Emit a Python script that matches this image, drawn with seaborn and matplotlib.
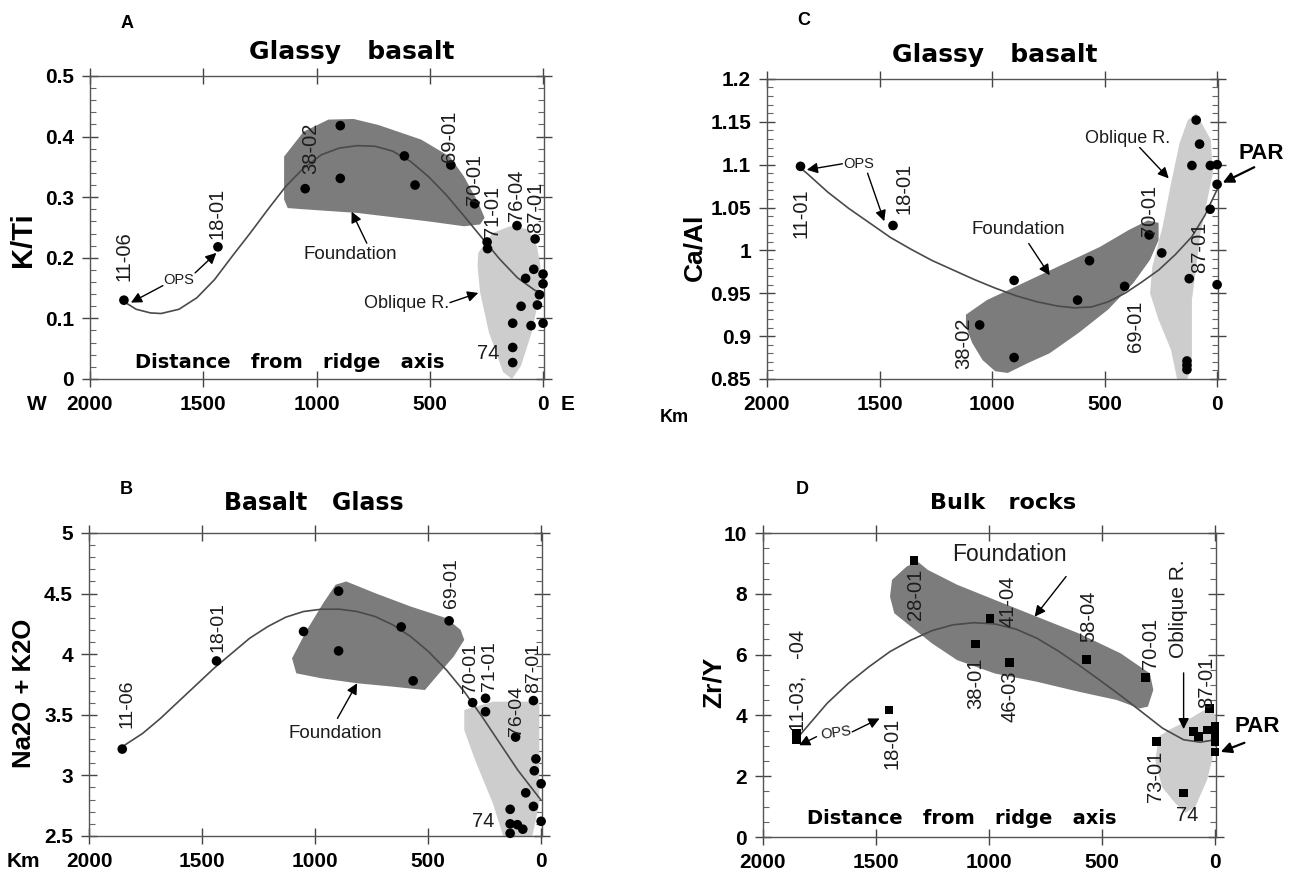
import numpy as np
import pandas as pd
import matplotlib
matplotlib.use("Agg")
import matplotlib.pyplot as plt
from matplotlib.ticker import MultipleLocator, FuncFormatter
import seaborn as sns

# ------------------------------------------------------------------ data
# Panel A : K/Ti, glassy basalt (distance from ridge axis, km)
a_dist = [1850, 1435, 1050, 895, 895, 612, 565, 407, 302, 247, 245, 115, 35,
          41, 77, 0, 0, 16, 25, 97, 53, 0, 134, 134, 134]
a_kti = [0.130, 0.218, 0.314, 0.418, 0.331, 0.368, 0.320, 0.353, 0.289, 0.226,
         0.215, 0.253, 0.231, 0.181, 0.166, 0.173, 0.157, 0.139, 0.122, 0.120,
         0.088, 0.092, 0.092, 0.052, 0.027]
a_fit_dist = [1843, 1796, 1733, 1686, 1607, 1528, 1450, 1371, 1292, 1214, 1135,
              1057, 978, 899, 821, 742, 664, 585, 506, 428, 349, 270, 192, 113, 35, 0]
a_fit_val = [0.126, 0.115, 0.109, 0.108, 0.115, 0.134, 0.164, 0.203, 0.241, 0.280,
             0.318, 0.348, 0.370, 0.381, 0.385, 0.384, 0.376, 0.359, 0.334, 0.304,
             0.269, 0.233, 0.198, 0.167, 0.146, 0.143]
a_found_dist = [1143, 1057, 947, 836, 726, 538, 412, 349, 286, 258, 278, 349, 506,
                821, 1057, 1127, 1143]
a_found_val = [0.367, 0.408, 0.428, 0.429, 0.419, 0.395, 0.367, 0.334, 0.291, 0.266,
               0.255, 0.252, 0.260, 0.274, 0.280, 0.282, 0.296]
a_obl_dist = [286, 223, 145, 66, 27, 11, 19, 50, 97, 137, 176, 239, 278, 289]
a_obl_val = [0.208, 0.241, 0.252, 0.247, 0.219, 0.186, 0.132, 0.077, 0.022, 0.0,
             0.011, 0.077, 0.143, 0.186]

# Panel B : Na2O + K2O, basalt glass
b_dist = [1853, 1436, 1051, 896, 896, 619, 566, 407, 303, 246, 246, 113, 34, 23,
          30, 0, 68, 34, 0, 137, 137, 105, 81, 137]
b_alk = [3.217, 3.944, 4.187, 4.52, 4.027, 4.225, 3.78, 4.275, 3.60, 3.636, 3.525,
         3.316, 3.617, 3.136, 3.038, 2.931, 2.856, 2.744, 2.621, 2.72, 2.60, 2.593,
         2.556, 2.522]
b_fit_dist = [1842, 1763, 1684, 1605, 1526, 1447, 1368, 1289, 1209, 1130, 1051, 972,
              893, 814, 735, 656, 577, 498, 419, 340, 261, 182, 103, 40, 0]
b_fit_val = [3.25, 3.346, 3.470, 3.608, 3.746, 3.884, 4.008, 4.132, 4.228, 4.305,
             4.352, 4.371, 4.371, 4.352, 4.311, 4.242, 4.145, 4.021, 3.870, 3.691,
             3.484, 3.263, 3.043, 2.891, 2.795]
b_found_dist = [1102, 1036, 964, 909, 862, 735, 577, 419, 356, 340, 387, 451, 514,
                656, 814, 972, 1083]
b_found_val = [3.966, 4.200, 4.421, 4.573, 4.600, 4.504, 4.393, 4.297, 4.200, 4.118,
               3.980, 3.842, 3.704, 3.732, 3.760, 3.801, 3.842]
b_obl_dist = [340, 213, 8, 8, 40, 166, 213, 292, 340]
b_obl_val = [3.539, 3.608, 3.608, 2.767, 2.49, 2.49, 2.767, 3.126, 3.374]

# Panel C : Ca/Al, glassy basalt
c_dist = [1851, 1440, 902, 1055, 902, 620, 567, 411, 302, 246, 93, 78, 112, 30, 0,
          0, 31, 124, 0, 134, 134, 134]
c_caal = [1.098, 1.029, 0.965, 0.913, 0.875, 0.942, 0.988, 0.958, 1.018, 0.997,
          1.152, 1.124, 1.099, 1.099, 1.100, 1.077, 1.048, 0.967, 0.960, 0.871,
          0.866, 0.861]
c_fit_dist = [1842, 1823, 1730, 1637, 1544, 1451, 1358, 1265, 1172, 1079, 986, 893,
              800, 707, 633, 558, 484, 409, 335, 260, 186, 112, 56, 0]
c_fit_val = [1.094, 1.090, 1.068, 1.049, 1.032, 1.015, 1.001, 0.988, 0.977, 0.966,
             0.956, 0.947, 0.940, 0.935, 0.933, 0.934, 0.940, 0.950, 0.963, 0.977,
             0.995, 1.016, 1.040, 1.071]
c_found_dist = [1116, 1023, 893, 707, 521, 391, 307, 260, 260, 298, 372, 484, 614,
                744, 837, 930, 986, 1042, 1088, 1116]
c_found_val = [0.925, 0.942, 0.958, 0.981, 1.004, 1.024, 1.035, 1.032, 1.012, 0.989,
               0.962, 0.931, 0.904, 0.880, 0.869, 0.857, 0.859, 0.872, 0.892, 0.911]
c_obl_dist = [93, 28, 19, 74, 112, 112, 140, 177, 205, 260, 298, 288, 242, 205, 167, 130]
c_obl_val = [1.160, 1.129, 1.090, 1.020, 0.942, 0.865, 0.845, 0.849, 0.884, 0.919,
             0.950, 0.981, 1.028, 1.078, 1.125, 1.152]

# Panel D : Zr/Y, bulk rocks
d_dist = [1852, 1852, 1442, 1332, 1058, 996, 909, 570, 306, 260, 139, 94, 72, 35,
          23, 0, 0, 0, 0]
d_zry = [3.40, 3.22, 4.18, 9.10, 6.35, 7.19, 5.74, 5.85, 5.25, 3.13, 1.45, 3.48,
         3.30, 3.52, 4.23, 3.63, 3.45, 3.13, 2.80]
d_fit_dist = [1837, 1716, 1623, 1531, 1438, 1345, 1252, 1160, 1067, 974, 881, 788,
              696, 603, 510, 417, 325, 232, 139, 65, 0]
d_fit_val = [3.35, 4.40, 5.05, 5.60, 6.10, 6.48, 6.79, 6.98, 7.05, 7.01, 6.84, 6.54,
             6.13, 5.66, 5.16, 4.65, 4.12, 3.58, 3.20, 3.12, 3.20]
d_found_dist = [1429, 1364, 1317, 1271, 1141, 974, 789, 603, 417, 288, 273, 297, 334,
                436, 603, 789, 974, 1141, 1252, 1345, 1419, 1438]
d_found_val = [8.46, 8.90, 9.07, 8.79, 8.30, 7.80, 7.25, 6.70, 6.04, 5.38, 4.84, 4.29,
               4.23, 4.51, 4.78, 5.11, 5.38, 5.82, 6.37, 6.92, 7.36, 7.91]
d_obl_dist = [21, 72, 146, 205, 249, 264, 235, 176, 131, 87, 35, 13, 0, -5]
d_obl_val = [4.29, 4.07, 3.74, 3.52, 3.30, 2.53, 1.65, 1.11, 0.80, 1.00, 1.88, 2.53,
             2.97, 3.96]

x_ticks = [2000, 1500, 1000, 500, 0]

# ------------------------------------------------------------------ style
sns.set_theme(style="ticks")
plt.rcParams["font.family"] = ["Liberation Sans", "DejaVu Sans"]
plt.rcParams["font.weight"] = "bold"
plt.rcParams["axes.labelweight"] = "bold"
plt.rcParams["text.color"] = "black"
plt.rcParams["axes.labelcolor"] = "black"

FOUND = "#7c7c7c"
OBL = "#cdcdcd"
CURVE = "#4a4a4a"
HEAVY = ["DejaVu Sans"]
ANN = dict(family=["Liberation Sans", "DejaVu Sans"], fontweight="normal", color="#1c1c1c")

fig = plt.figure(figsize=(12.96, 8.75), dpi=100)
axA = fig.add_axes([0.0694, 0.5669, 0.3505, 0.3463])
axC = fig.add_axes([0.5918, 0.5669, 0.3482, 0.3429])
axB = fig.add_axes([0.0687, 0.0446, 0.3497, 0.3463])
axD = fig.add_axes([0.5887, 0.0434, 0.3497, 0.3474])


def style(ax, ylim, ymaj, ymin):
    ax.set_xlim(2000, -5)
    ax.set_ylim(*ylim)
    ax.set_xticks(x_ticks)
    ax.xaxis.set_major_formatter(FuncFormatter(lambda v, p: f"{int(round(v))}"))
    ax.yaxis.set_major_locator(MultipleLocator(ymaj))
    ax.yaxis.set_minor_locator(MultipleLocator(ymin))
    ax.yaxis.set_major_formatter(FuncFormatter(lambda v, p: f"{v:g}"))
    ax.tick_params(which="major", direction="inout", length=11, width=1.0,
                   top=True, right=True, color="#444", labelsize=15, pad=6,
                   labelcolor="black")
    ax.tick_params(which="minor", direction="in", length=4.5, width=0.8,
                   left=True, right=True, top=False, bottom=False, color="#666")
    for s in ax.spines.values():
        s.set_color("#555")
        s.set_linewidth(1.0)
    ax.set_facecolor("white")


def draw(ax, xd, yd, fx, fy, pfx, pfy, ofx, ofy, marker="o", size=48):
    ax.fill(pfx, pfy, color=FOUND, lw=0, zorder=1)
    ax.fill(ofx, ofy, color=OBL, lw=0, zorder=1)
    sns.lineplot(x=fx, y=fy, ax=ax, sort=False, estimator=None, color=CURVE,
                 lw=1.2, zorder=2)
    sns.scatterplot(x=xd, y=yd, ax=ax, color="black", marker=marker, s=size,
                    edgecolor="none", zorder=4, legend=False, clip_on=False)


def lab(ax, x, y, s, size=14.5, rot=90):
    ax.text(x, y, s, rotation=rot, ha="center", va="center", fontsize=size,
            zorder=5, clip_on=False, **ANN)


def txt(ax, x, y, s, size=13, rot=0):
    ax.text(x, y, s, rotation=rot, ha="center", va="center", fontsize=size,
            zorder=5, clip_on=False, **ANN)


def arrow(ax, tail, head, ms=16, lw=1.0):
    ax.annotate("", xy=head, xytext=tail, annotation_clip=False, zorder=6,
                arrowprops=dict(arrowstyle="-|>", color="black", lw=lw,
                                mutation_scale=ms, shrinkA=0, shrinkB=0))


def bold(ax, x, y, s, size=14, family=None, **kw):
    ax.text(x, y, s, ha="center", va="center", fontsize=size, fontweight="bold",
            family=family or ["Liberation Sans", "DejaVu Sans"], clip_on=False,
            zorder=5, **kw)


def ylab(ax, s, xc, yc, size=18):
    ax.set_ylabel(s, fontsize=size, fontweight="bold")
    ax.yaxis.set_label_coords(xc, yc)
    ax.yaxis.label.set_verticalalignment("center")


# ------------------------------------------------------------------ Panel A
style(axA, (0, 0.5), 0.1, 0.02)
draw(axA, a_dist, a_kti, a_fit_dist, a_fit_val, a_found_dist, a_found_val,
     a_obl_dist, a_obl_val)
ylab(axA, "K/Ti", -0.148, 0.46, 21)
bold(axA, 1835, 0.587, "A", 13)
bold(axA, 844, 0.540, "Glassy   basalt", 18, family=HEAVY)
bold(axA, 1119, 0.027, "Distance   from   ridge   axis", 14, family=HEAVY)
tA = axA.get_xaxis_transform()
bold(axA, 2235, -0.085, "W", 15, transform=tA)
bold(axA, -110, -0.085, "E", 15, transform=tA)
for x, y, s in [(1851, 0.203, "11-06"), (1437, 0.274, "18-01"), (1027, 0.380, "38-02"),
                (415, 0.400, "69-01"), (302, 0.330, "70-01"), (222, 0.277, "71-01"),
                (116, 0.303, "76-04"), (35, 0.283, "87-01")]:
    lab(axA, x, y, s)
txt(axA, 243, 0.042, "74", 14.5)
txt(axA, 1607, 0.163, "OPS", 10.5)
arrow(axA, (1678, 0.154), (1819, 0.126))
arrow(axA, (1536, 0.175), (1442, 0.208))
txt(axA, 849, 0.205, "Foundation", 13.5)
arrow(axA, (778, 0.224), (845, 0.276))
txt(axA, 602, 0.125, "Oblique R.", 13)
arrow(axA, (411, 0.126), (286, 0.142))

# ------------------------------------------------------------------ Panel C
style(axC, (0.85, 1.2), 0.05, 0.01)
draw(axC, c_dist, c_caal, c_fit_dist, c_fit_val, c_found_dist, c_found_val,
     c_obl_dist, c_obl_val)
ylab(axC, "Ca/Al", -0.16, 0.44, 19)
bold(axC, 1836, 1.268, "C", 13)
bold(axC, 986, 1.228, "Glassy   basalt", 18, family=HEAVY)
tC = axC.get_xaxis_transform()
bold(axC, 2410, -0.13, "Km", 13, transform=tC)
for x, y, s in [(1851, 1.043, "11-01"), (1392, 1.072, "18-01"), (1126, 0.892, "38-02"),
                (363, 0.912, "69-01"), (300, 1.047, "70-01"), (78, 1.003, "87-01")]:
    lab(axC, x, y, s)
txt(axC, 1591, 1.101, "OPS", 10.5)
arrow(axC, (1665, 1.101), (1823, 1.094))
arrow(axC, (1553, 1.090), (1479, 1.034))
txt(axC, 884, 1.024, "Foundation", 13.5)
arrow(axC, (837, 1.008), (744, 0.971))
txt(axC, 396, 1.130, "Oblique R.", 13)
arrow(axC, (344, 1.120), (215, 1.084))
bold(axC, -195, 1.113, "PAR", 16)
arrow(axC, (-165, 1.097), (-25, 1.079), lw=1.6)

# ------------------------------------------------------------------ Panel B
style(axB, (2.5, 5), 0.5, 0.1)
draw(axB, b_dist, b_alk, b_fit_dist, b_fit_val, b_found_dist, b_found_val,
     b_obl_dist, b_obl_val)
ylab(axB, "Na2O + K2O", -0.144, 0.471, 18.5)
bold(axB, 1834, 5.358, "B", 13)
bold(axB, 1004, 5.25, "Basalt   Glass", 17, family=HEAVY)
tB = axB.get_xaxis_transform()
bold(axB, 2290, -0.085, "Km", 15, transform=tB)
for x, y, s in [(1834, 3.594, "11-06"), (1431, 4.228, "18-01"), (398, 4.590, "69-01"),
                (314, 3.890, "70-01"), (228, 3.900, "71-01"), (108, 3.530, "76-04"),
                (31, 3.885, "87-01")]:
    lab(axB, x, y, s, size=14)
txt(axB, 255, 2.618, "74", 14.5)
txt(axB, 909, 3.346, "Foundation", 13.5)
arrow(axB, (901, 3.47), (814, 3.76))

# ------------------------------------------------------------------ Panel D
style(axD, (0, 10), 2, 0.5)
draw(axD, d_dist, d_zry, d_fit_dist, d_fit_val, d_found_dist, d_found_val,
     d_obl_dist, d_obl_val, marker="s", size=40)
ylab(axD, "Zr/Y", -0.108, 0.51, 19)
bold(axD, 1827, 11.43, "D", 13)
bold(axD, 937, 10.99, "Bulk   rocks", 16, family=HEAVY)
bold(axD, 1122, 0.62, "Distance   from   ridge   axis", 14, family=HEAVY)
for x, y, s in [(1846, 5.14, "11-03,   -04"), (1429, 3.08, "18-01"), (1327, 7.97, "28-01"),
                (1058, 5.05, "38-01"), (918, 7.75, "41-04"), (909, 4.62, "46-03"),
                (557, 7.25, "58-04"), (285, 6.37, "70-01"), (265, 1.98, "73-01"),
                (35, 5.10, "87-01")]:
    lab(axD, x, y, s)
txt(axD, 125, 0.70, "74", 14.5)
lab(axD, 161, 7.50, "Oblique R.", 15)
arrow(axD, (139, 5.40), (139, 3.55))
txt(axD, 909, 9.29, "Foundation", 16.5)
arrow(axD, (659, 8.57), (798, 7.25))
txt(axD, 1679, 3.41, "OPS", 10.5, rot=8)
arrow(axD, (1763, 3.30), (1840, 3.02))
arrow(axD, (1605, 3.46), (1484, 3.90))
bold(axD, -186, 3.63, "PAR", 16)
arrow(axD, (-130, 3.10), (-25, 2.80), lw=1.6)

for ax in (axA, axB, axC, axD):
    ax.set_xlabel("")

fig.savefig("out.png", dpi=100, facecolor="white")
